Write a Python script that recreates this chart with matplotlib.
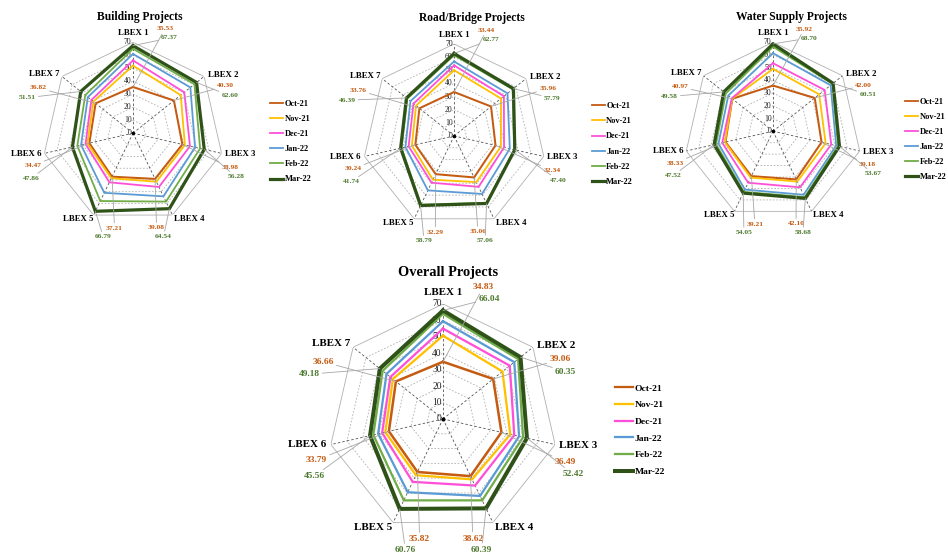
import numpy as np
import matplotlib.pyplot as plt
from matplotlib.lines import Line2D

plt.rcParams["font.family"] = ["Liberation Serif", "DejaVu Serif"]
plt.rcParams["font.weight"] = "bold"

# ── Data ──────────────────────────────────────────────────────────────────────
spokes = ["LBEX 1", "LBEX 2", "LBEX 3", "LBEX 4", "LBEX 5", "LBEX 6", "LBEX 7"]
months = ["Oct-21", "Nov-21", "Dec-21", "Jan-22", "Feb-22", "Mar-22"]

# rows follow `months`, columns follow `spokes`
building = [
    [35.53, 40.30, 38.98, 39.08, 37.21, 34.47, 36.82],
    [52.0, 47.0, 41.0, 41.5, 38.5, 36.0, 39.0],
    [56.0, 50.5, 45.0, 46.0, 42.0, 37.5, 41.0],
    [61.0, 56.5, 49.0, 54.0, 51.0, 41.0, 44.5],
    [65.0, 60.5, 53.0, 58.5, 58.0, 44.0, 47.0],
    [67.37, 62.60, 56.28, 64.54, 66.79, 47.86, 51.51],
]
road = [
    [33.44, 35.96, 32.34, 35.06, 32.29, 30.24, 33.76],
    [50.0, 45.7, 36.5, 39.0, 37.0, 33.0, 37.0],
    [53.7, 48.5, 39.0, 43.0, 39.5, 35.5, 39.5],
    [56.7, 52.0, 43.5, 49.0, 46.0, 38.0, 42.5],
    [61.5, 57.0, 47.0, 56.5, 58.0, 41.0, 45.5],
    [62.77, 57.79, 47.40, 57.06, 58.79, 41.74, 46.39],
]
water = [
    [35.92, 42.00, 39.18, 42.10, 39.21, 38.33, 40.97],
    [49.0, 46.5, 42.5, 44.0, 40.5, 38.8, 41.0],
    [53.5, 52.0, 47.0, 49.0, 45.0, 41.0, 41.5],
    [61.4, 58.0, 51.0, 55.5, 51.0, 44.0, 45.0],
    [66.5, 59.8, 52.5, 57.5, 53.0, 46.0, 47.5],
    [68.70, 60.51, 53.67, 58.68, 54.05, 47.52, 49.58],
]
overall = [
    [34.83, 39.06, 36.49, 38.62, 35.82, 33.79, 36.66],
    [50.7, 46.3, 42.0, 40.8, 38.0, 36.0, 39.0],
    [55.0, 52.0, 44.5, 45.0, 42.5, 38.0, 41.0],
    [59.5, 55.5, 47.5, 52.0, 49.5, 40.5, 44.0],
    [64.0, 58.5, 50.0, 55.0, 55.0, 43.5, 47.0],
    [66.04, 60.35, 52.42, 60.39, 60.76, 45.56, 49.18],
]
rings = [0, 10, 20, 30, 40, 50, 60, 70]

# ── Style ─────────────────────────────────────────────────────────────────────
COLORS = ["#C55A11", "#FFC000", "#FF4FD8", "#5B9BD5", "#70AD47", "#2F5219"]
OCT_TXT = "#C55A11"
MAR_TXT = "#4E7A2E"
LEAD = "#A6A6A6"

# label placement: (angle deg, radius) around each spoke
LAB_ANG = [0, 57, 101, 146.6, 212.8, 259.2, 304]
LAB_R = [77, 82.5, 84, 79, 78.5, 84, 82]
OCT_ANG = [17, 63, 109.5, 166, 191, 252, 295.5]
OCT_R = [84, 80, 79, 75, 74.5, 81, 81]
MAR_ANG = [21, 69, 113, 163.5, 196, 246, 288.5]
MAR_R = [78.5, 80, 86, 83, 83, 86, 86]

fig = plt.figure(figsize=(9.48, 5.56), dpi=100)
fig.patch.set_facecolor("white")


def radar(rect, title, title_xy, rows, legend_xy, big=False):
    k = 1.25 if big else 1.0
    ax = fig.add_axes(rect, projection="polar")
    ax.set_theta_zero_location("N")
    ax.set_theta_direction(-1)
    ax.set_ylim(0, 70)
    ax.grid(False)
    ax.spines["polar"].set_visible(False)
    ax.set_xticks([])
    ax.set_yticks([])
    ax.patch.set_alpha(0)

    theta = np.linspace(0, 2 * np.pi, len(spokes), endpoint=False)
    tc = np.append(theta, theta[0])

    # grid rings + spokes
    for r in rings[1:]:
        ls = "-" if r == 70 else (0, (2, 2))
        ax.plot(tc, [r] * len(tc), color="#B0B0B0", lw=0.6, ls=ls, zorder=1)
    for t in theta:
        ax.plot([t, t], [0, 70], color="#555555", lw=0.6, ls=(0, (3, 2.5)), zorder=1)
    ax.plot([0], [0], "o", color="black", ms=1.5 * k, zorder=2)

    for r in rings:
        ax.annotate(str(r), xy=(0, r), xytext=(-1, 0), textcoords="offset points",
                    ha="right", va="center", fontsize=5.5 * k, color="#222222",
                    fontweight="normal", zorder=3)

    # series
    for i, (vals, col) in enumerate(zip(rows, COLORS)):
        lw = (2.3 if i == 5 else 1.45 if i == 0 else 1.3) * k
        ax.plot(tc, np.append(vals, vals[0]), color=col, lw=lw, zorder=4 + i,
                solid_joinstyle="miter")

    # spoke names and Oct/Mar labels
    for j, name in enumerate(spokes):
        ax.text(np.radians(LAB_ANG[j]), LAB_R[j], name, ha="center", va="center",
                fontsize=6.3 * k, color="black")
        for vals, ang, rr, col in ((rows[0], OCT_ANG, OCT_R, OCT_TXT),
                                   (rows[5], MAR_ANG, MAR_R, MAR_TXT)):
            ax.annotate(f"{vals[j]:.2f}", xy=(theta[j], vals[j]),
                        xytext=(np.radians(ang[j]), rr[j]), textcoords="data",
                        ha="center", va="center", fontsize=5.4 * k, color=col,
                        arrowprops=dict(arrowstyle="-", color=LEAD, lw=0.6,
                                        shrinkA=0, shrinkB=0), zorder=12)

    fig.text(title_xy[0], title_xy[1], title, ha="center", va="center",
             fontsize=8.3 * k, color="black")

    handles = [Line2D([], [], color=c, lw=(2.3 if i == 5 else 1.3) * k)
               for i, c in enumerate(COLORS)]
    fig.legend(handles, months, loc="center left", bbox_to_anchor=legend_xy,
               frameon=False, fontsize=6.8 if big else 6.0,
               handlelength=1.9 if big else 1.55, handletextpad=0.15,
               borderpad=0, borderaxespad=0,
               labelspacing=0.85 if big else 0.85)
    return ax


radar([0.0443, 0.597, 0.192, 0.327], "Building Projects", (0.1477, 0.969),
      building, (0.285, 0.745))
radar([0.382, 0.590, 0.194, 0.331], "Road/Bridge Projects", (0.498, 0.968),
      road, (0.6245, 0.741))
radar([0.7215, 0.604, 0.1878, 0.320], "Water Supply Projects", (0.835, 0.969),
      water, (0.955, 0.749))
radar([0.346, 0.0396, 0.2426, 0.4137], "Overall Projects", (0.4726, 0.509),
      overall, (0.649, 0.2266), big=True)

fig.savefig("out.png", dpi=100, facecolor="white")
